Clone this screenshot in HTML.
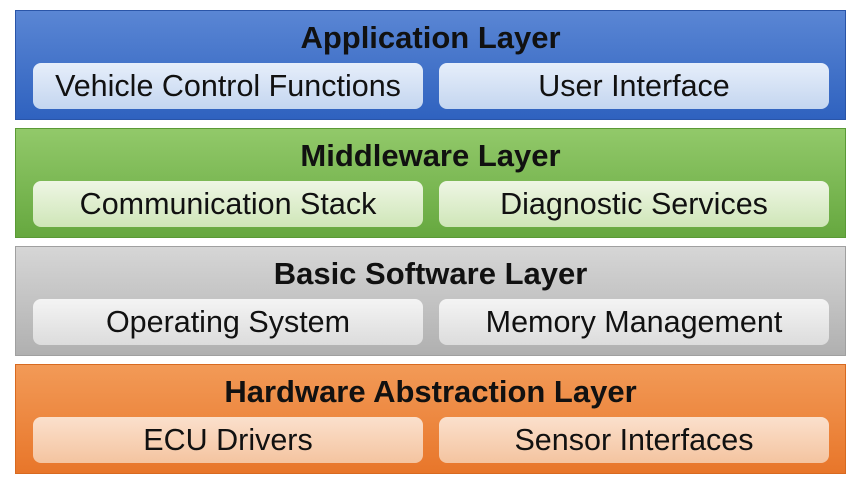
<!DOCTYPE html>
<html><head><style>
body{margin:0;width:861px;height:484px;background:#fff;position:relative;overflow:hidden;font-family:"Liberation Sans",Arial,sans-serif;}
.l{position:absolute;left:15px;width:831px;height:110px;box-sizing:border-box;}
.t{position:absolute;left:0;right:0;top:9px;text-align:center;font-weight:bold;font-size:31px;color:#111;}
.b{position:absolute;top:52px;height:46px;width:390px;border-radius:8px;text-align:center;line-height:46px;font-size:30.5px;color:#111;box-sizing:border-box;}
.b1{left:17px}.b2{left:423px}
</style></head><body>
<div class="l" style="top:10px;background:linear-gradient(#5a86d4,#2f62bf);border:1px solid #2a55a8">
<div class="t">Application Layer</div>
<div class="b b1" style="background:linear-gradient(#e6eefa,#c4d6f0)">Vehicle Control Functions</div>
<div class="b b2" style="background:linear-gradient(#e6eefa,#c4d6f0)">User Interface</div></div>
<div class="l" style="top:128px;background:linear-gradient(#92c96a,#66a83f);border:1px solid #5a9a36">
<div class="t">Middleware Layer</div>
<div class="b b1" style="background:linear-gradient(#eef6e4,#cfe6b8)">Communication Stack</div>
<div class="b b2" style="background:linear-gradient(#eef6e4,#cfe6b8)">Diagnostic Services</div></div>
<div class="l" style="top:246px;background:linear-gradient(#d6d6d6,#b0b0b0);border:1px solid #a0a0a0">
<div class="t">Basic Software Layer</div>
<div class="b b1" style="background:linear-gradient(#f4f4f4,#dcdcdc)">Operating System</div>
<div class="b b2" style="background:linear-gradient(#f4f4f4,#dcdcdc)">Memory Management</div></div>
<div class="l" style="top:364px;background:linear-gradient(#f29a57,#e8762a);border:1px solid #d86a20">
<div class="t">Hardware Abstraction Layer</div>
<div class="b b1" style="background:linear-gradient(#fbe0cc,#f4c4a0)">ECU Drivers</div>
<div class="b b2" style="background:linear-gradient(#fbe0cc,#f4c4a0)">Sensor Interfaces</div></div>
</body></html>
